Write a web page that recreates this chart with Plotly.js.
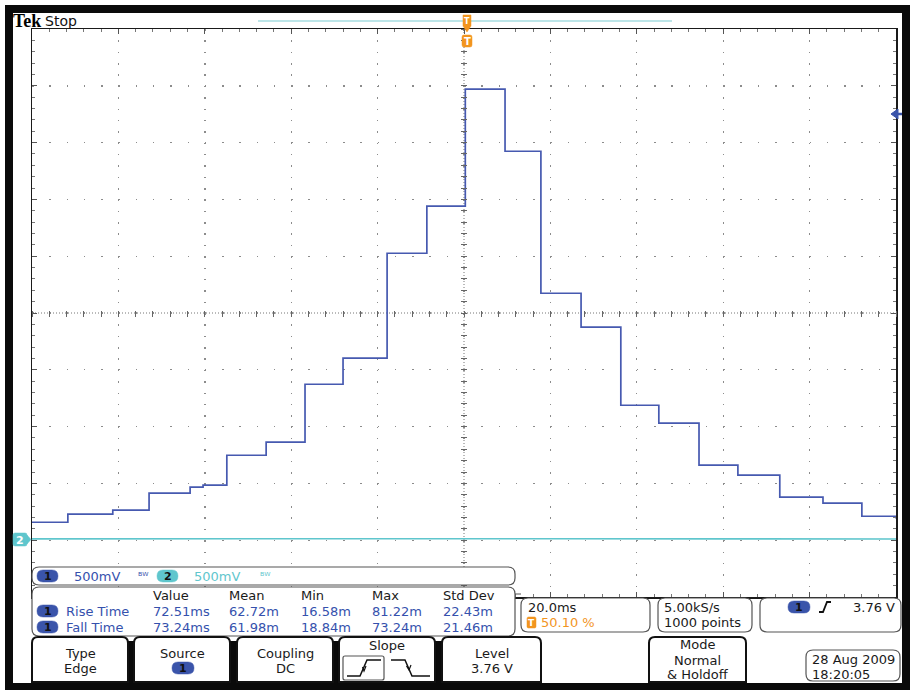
<!DOCTYPE html>
<html><head><meta charset="utf-8">
<script src="https://cdn.plot.ly/plotly-3.0.1.min.js"></script>
<style>html,body{margin:0;padding:0;background:#fff;} #chart{width:910px;height:691px;}</style>
</head><body><div id="chart"></div>
<script>
// ---------------- DATA ----------------
// Channel 1: time (ms, trigger = 0) at which each level starts, and the level (V)
const ch1StepTimesMs = [-100, -91.7, -81.3, -72.9, -63.4, -60.4, -54.9, -45.8, -36.8, -28.0, -17.8, -8.6, 0.3, 9.5, 17.8, 27.1, 36.3, 45.1, 54.4, 63.4, 73.1, 83.1, 92.1, 100];
const ch1LevelsV      = [0.158, 0.229, 0.264, 0.414, 0.467, 0.484, 0.748, 0.863, 1.373, 1.602, 2.526, 2.940, 3.970, 3.424, 2.174, 1.875, 1.188, 1.030, 0.660, 0.572, 0.379, 0.326, 0.211, 0.190];
// Channel 2: flat near ground
const ch2TimesMs = [-100, -60, -20, 20, 60, 100];
const ch2LevelsV = [0.012, 0.014, 0.012, 0.013, 0.012, 0.011];

const channelScales = ['500mV', '500mV'];
const measHeaders   = ['Value', 'Mean', 'Min', 'Max', 'Std Dev'];
const measRowNames  = ['Rise Time', 'Fall Time'];
const riseTimeVals  = ['72.51ms', '62.72m', '16.58m', '81.22m', '22.43m'];
const fallTimeVals  = ['73.24ms', '61.98m', '18.84m', '73.24m', '21.46m'];
const horizScale    = '20.0ms';
const triggerPos    = '50.10 %';
const sampleRate    = '5.00kS/s';
const recordLen     = '1000 points';
const triggerLevel  = '3.76 V';
const dateText      = '28 Aug 2009';
const timeText      = '18:20:05';
const softkeys      = [['Type', 'Edge'], ['Source', ''], ['Coupling', 'DC'], ['Slope', ''], ['Level', '3.76 V']];
const modeKey       = ['Mode', 'Normal', '&amp; Holdoff'];

// ---------------- GEOMETRY ----------------
const L = 32, T = 29, PW = 864, PH = 568;
const fx = p => (p - L) / PW;
const fy = p => (T + PH - p) / PH;
const P = (x, y) => fx(x).toFixed(5) + ',' + fy(y).toFixed(5);

function poly(pts, close) {
  return pts.map((p, i) => (i ? 'L ' : 'M ') + P(p[0], p[1])).join(' ') + (close ? ' Z' : '');
}
function rrPath(x0, y0, x1, y1, r, topOnly) {
  let d = `M ${P(x0 + r, y0)} L ${P(x1 - r, y0)} Q ${P(x1, y0)} ${P(x1, y0 + r)} `;
  if (topOnly) d += `L ${P(x1, y1)} L ${P(x0, y1)} `;
  else d += `L ${P(x1, y1 - r)} Q ${P(x1, y1)} ${P(x1 - r, y1)} L ${P(x0 + r, y1)} Q ${P(x0, y1)} ${P(x0, y1 - r)} `;
  d += `L ${P(x0, y0 + r)} Q ${P(x0, y0)} ${P(x0 + r, y0)} Z`;
  return d;
}
const shapes = [];
const anns = [];
function rect(x0, y0, x1, y1, fill) {
  shapes.push({type: 'rect', xref: 'paper', yref: 'paper', x0: fx(x0), x1: fx(x1), y0: fy(y1), y1: fy(y0),
    fillcolor: fill, line: {width: 0}, layer: 'above'});
}
function rr(x0, y0, x1, y1, r, fill, lc, lw, topOnly) {
  shapes.push({type: 'path', xref: 'paper', yref: 'paper', path: rrPath(x0, y0, x1, y1, r, topOnly),
    fillcolor: fill, line: {color: lc, width: lw}, layer: 'above'});
}
function pathShape(pts, close, fill, lc, lw) {
  shapes.push({type: 'path', xref: 'paper', yref: 'paper', path: poly(pts, close),
    fillcolor: fill || 'rgba(0,0,0,0)', line: {color: lc, width: lw}, layer: 'above'});
}
function A(text, px, py, o) {
  o = o || {};
  anns.push({text: text, x: fx(px), y: fy(py), xref: 'paper', yref: 'paper',
    xanchor: o.xa || 'left', yanchor: 'middle', showarrow: false, borderpad: 0,
    font: {family: o.family || 'DejaVu Sans', size: o.size || 13, color: o.color || '#1a1a1a',
           weight: o.weight || 'normal'}});
}
const BLUE_TXT = '#3551ad', CYAN = '#5fc6cd', PILL_BLUE = '#3a54aa', ORANGE = '#f2951f';
function pill(x0, x1, yc, fill, label, lc) {
  rr(x0, yc - 6, x1, yc + 6, 6, fill, fill, 0.5);
  A(label, (x0 + x1) / 2, yc + 0.5, {xa: 'center', size: 11, color: lc || '#111', weight: 'bold'});
}

// ---------------- FRAME ----------------
rect(5, 5, 910, 13, '#0a0a0a');          // top band
rect(5, 5, 13, 690, '#0a0a0a');          // left band
rect(5, 683, 910, 690, '#0a0a0a');       // bottom band
rect(902, 5, 910, 690, '#0a0a0a');       // right band

// top status strip
A('Tek', 12, 21, {family: 'Liberation Serif', size: 18, weight: 'bold', color: '#000'});
A('Stop', 44, 21, {size: 14, color: '#111'});
shapes.push({type: 'line', xref: 'paper', yref: 'paper', x0: fx(258), x1: fx(672), y0: fy(21), y1: fy(21),
  line: {color: '#a6dce1', width: 1.5}, layer: 'above'});
// trigger position markers
pathShape([[463, 15], [471, 15], [471, 26], [467, 32], [463, 26]], true, ORANGE, ORANGE, 0.5);
A('T', 467, 21, {xa: 'center', size: 8, color: '#fff', weight: 'bold'});
rr(462, 35, 472, 47, 2, ORANGE, ORANGE, 0.5);
A('T', 467, 41.5, {xa: 'center', size: 10, color: '#fff', weight: 'bold'});
// trigger level arrow (right)
pathShape([[891, 114], [898, 109], [898, 119]], true, PILL_BLUE, PILL_BLUE, 1);
shapes.push({type: 'line', xref: 'paper', yref: 'paper', x0: fx(897), x1: fx(902), y0: fy(114), y1: fy(114),
  line: {color: PILL_BLUE, width: 2.5}, layer: 'above'});
// channel 2 ground marker (left)
rr(13, 533, 27, 546, 2, CYAN, CYAN, 0.5);
pathShape([[27, 535], [31, 539.5], [27, 544]], true, CYAN, CYAN, 0.5);
A('2', 20, 540, {xa: 'center', size: 11, color: '#fff', weight: 'bold'});

// ---------------- CHANNEL READOUT BAR ----------------
rr(32, 567, 515, 585, 7, '#fff', '#555', 1.2);
pill(37, 58, 576, PILL_BLUE, '1');
A(channelScales[0], 73, 576.5, {color: BLUE_TXT});
A('ᴮᵂ', 137, 576, {size: 10, color: BLUE_TXT});
pill(157, 178, 576, CYAN, '2');
A(channelScales[1], 193, 576.5, {color: CYAN});
A('ᴮᵂ', 259, 576, {size: 10, color: CYAN});

// ---------------- MEASUREMENT PANEL ----------------
rr(32, 587, 515, 636, 7, '#fff', '#555', 1.2);
shapes.push({type: 'line', xref: 'paper', yref: 'paper', x0: fx(515), x1: fx(521), y0: fy(594), y1: fy(594),
  line: {color: '#555', width: 1}, layer: 'above'});
const colX = [152, 228, 300, 371, 442];
measHeaders.forEach((h, i) => A(h, colX[i], 595, {color: '#1a1a1a'}));
[riseTimeVals, fallTimeVals].forEach((vals, r) => {
  const yc = 611 + r * 16;
  pill(37, 58, yc, PILL_BLUE, '1');
  A(measRowNames[r], 65, yc, {color: BLUE_TXT});
  vals.forEach((v, i) => A(v, colX[i], yc, {color: BLUE_TXT}));
});

// ---------------- RIGHT READOUT BOXES ----------------
rr(521, 598, 650, 632, 7, '#fff', '#555', 1.2);
A(horizScale, 527, 607, {color: '#1a1a1a'});
rr(527, 617, 536, 628, 1.5, ORANGE, ORANGE, 0.5);
A('T', 531.5, 622.5, {xa: 'center', size: 9, color: '#fff', weight: 'bold'});
A(triggerPos, 540, 622.5, {color: ORANGE});
rr(658, 598, 752, 632, 7, '#fff', '#555', 1.2);
A(sampleRate, 663, 607, {color: '#1a1a1a'});
A(recordLen, 663, 622.5, {color: '#1a1a1a'});
rr(760, 598, 901, 632, 7, '#fff', '#555', 1.2);
pill(788, 810, 607, PILL_BLUE, '1');
pathShape([[819, 612], [823, 612], [827, 602], [831, 602]], false, null, '#111', 1.8);
A(triggerLevel, 896, 607, {xa: 'right', color: '#1a1a1a'});

// ---------------- SOFTKEYS ----------------
rect(34, 641, 540, 684, '#0a0a0a');
const keyX = [[32, 128], [134, 230], [237, 333], [339, 435], [442, 541]];
keyX.forEach((k, i) => {
  rr(k[0], 637, k[1], 682, 6, '#fff', '#111', 2, true);
  const cx = (k[0] + k[1]) / 2;
  if (i === 3) {
    A(softkeys[i][0], cx, 645.5, {xa: 'center'});
  } else {
    A(softkeys[i][0], cx, 653, {xa: 'center'});
    if (softkeys[i][1]) A(softkeys[i][1], cx, 668, {xa: 'center'});
  }
});
pill(172, 194, 668, PILL_BLUE, '1');
// slope icons
rr(343, 656, 384, 680, 2, '#fff', '#555', 1.2);
pathShape([[347, 676], [360, 676], [367, 660], [381, 660]], false, null, '#111', 1.5);
pathShape([[362.5, 667], [364, 671], [366, 666]], false, null, '#111', 1.2);
pathShape([[391, 660], [405, 660], [412, 676], [430, 676]], false, null, '#111', 1.5);
pathShape([[406.5, 666], [409, 670], [411, 665]], false, null, '#111', 1.2);
// mode key
rr(649, 637, 746, 682, 6, '#fff', '#111', 2, true);
A(modeKey[0], 697.5, 645, {xa: 'center'});
A(modeKey[1], 697.5, 660, {xa: 'center'});
A(modeKey[2], 697.5, 674.5, {xa: 'center'});
// date box
rr(806, 650, 900, 681, 7, '#fff', '#555', 1.2);
A(dateText, 811, 659, {color: '#1a1a1a'});
A(timeText, 811, 674, {color: '#1a1a1a'});

// ---------------- CENTER CROSSHAIR ----------------
shapes.push({type: 'line', xref: 'x', yref: 'paper', x0: 0, x1: 0, y0: 0, y1: 1,
  line: {color: '#777', width: 1, dash: '1px,2px'}, layer: 'below'});
shapes.push({type: 'line', xref: 'paper', yref: 'y', x0: 0, x1: 1, y0: 2, y1: 2,
  line: {color: '#777', width: 1, dash: '1px,2px'}, layer: 'below'});

// ---------------- TRACES ----------------
const traces = [
  {x: ch2TimesMs, y: ch2LevelsV, mode: 'lines', line: {color: CYAN, width: 1.6},
   hoverinfo: 'skip', showlegend: false},
  {x: ch1StepTimesMs, y: ch1LevelsV, mode: 'lines', line: {color: '#4659b0', width: 1.7, shape: 'hv'},
   hoverinfo: 'skip', showlegend: false},
  {x: [null], y: [null], xaxis: 'x2', yaxis: 'y2', mode: 'lines', showlegend: false, hoverinfo: 'skip'}
];

const axBase = {showticklabels: false, zeroline: false, fixedrange: true};
const layout = {
  width: 910, height: 691,
  margin: {l: L, r: 910 - L - PW, t: T, b: 691 - T - PH, pad: 0},
  paper_bgcolor: '#fff', plot_bgcolor: '#fff',
  font: {family: 'DejaVu Sans'},
  showlegend: false,
  xaxis: Object.assign({}, axBase, {
    range: [-100, 100], dtick: 20, tick0: -100,
    showgrid: true, gridcolor: '#8c8c8c', gridwidth: 1.4, griddash: '1.5px,9.86px',
    showline: true, linecolor: '#1a1a1a', linewidth: 1.5, mirror: 'allticks',
    ticks: 'inside', ticklen: 5, tickcolor: '#555', tickwidth: 1,
    minor: {dtick: 4, ticks: 'inside', ticklen: 3, tickcolor: '#777', showgrid: false}
  }),
  yaxis: Object.assign({}, axBase, {
    range: [-0.5, 4.5], dtick: 0.5, tick0: -0.5,
    showgrid: true, gridcolor: '#8c8c8c', gridwidth: 1.4, griddash: '1.5px,15.78px',
    showline: true, linecolor: '#1a1a1a', linewidth: 1.5, mirror: 'allticks',
    ticks: 'inside', ticklen: 5, tickcolor: '#555', tickwidth: 1,
    minor: {dtick: 0.1, ticks: 'inside', ticklen: 3, tickcolor: '#777', showgrid: false}
  }),
  xaxis2: Object.assign({}, axBase, {
    overlaying: 'x', anchor: 'free', position: 0.5 + 3 / PH, range: [-100, 100],
    showgrid: false, showline: false, ticks: 'outside', ticklen: 6, dtick: 4, tickcolor: '#666'
  }),
  yaxis2: Object.assign({}, axBase, {
    overlaying: 'y', anchor: 'free', position: 0.5 + 3 / PW, range: [-0.5, 4.5],
    showgrid: false, showline: false, ticks: 'outside', ticklen: 6, dtick: 0.1, tick0: -0.5, tickcolor: '#666'
  }),
  shapes: shapes,
  annotations: anns
};

Plotly.newPlot('chart', traces, layout, {staticPlot: true, displayModeBar: false});
</script>
</body></html>
